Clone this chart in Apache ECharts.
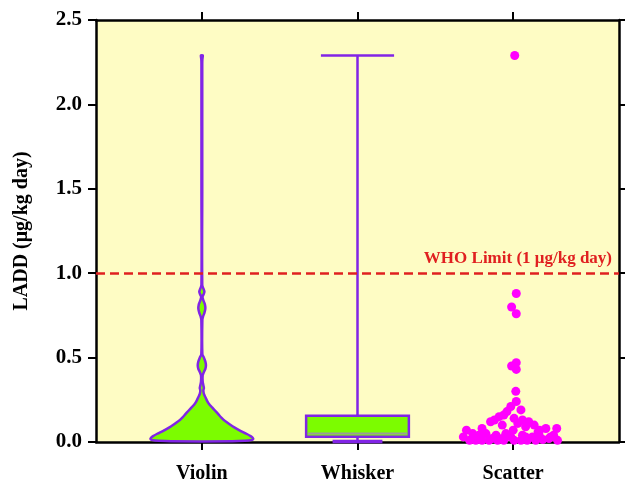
<!DOCTYPE html>
<html>
<head>
<meta charset="utf-8">
<script src="https://cdn.jsdelivr.net/npm/echarts@6/dist/echarts.min.js"></script>
<style>html,body{margin:0;padding:0;background:#fff}#c{width:625px;height:489px}</style>
</head>
<body>
<div id="c"></div>
<script>
// ---- data ----
var categories = ['Violin', 'Whisker', 'Scatter'];
var yTicks = [0, 0.5, 1.0, 1.5, 2.0, 2.5];
var whoLimit = 1.0;
var whoLabel = 'WHO Limit (1 μg/kg day)';

// violin profile: LADD value and relative density (half-width, 1 = widest)
var violinY = [2.29, 2.285, 2.265, 2.24, 1.5, 0.93, 0.905, 0.89, 0.875, 0.86, 0.835, 0.815, 0.79, 0.765, 0.745, 0.725,
  0.52, 0.5, 0.475, 0.455, 0.435, 0.415, 0.395, 0.36, 0.335, 0.32, 0.305, 0.285, 0.265, 0.245, 0.225, 0.205,
  0.185, 0.165, 0.145, 0.125, 0.105, 0.085, 0.065, 0.05, 0.035, 0.025, 0.017, 0.011, 0.007, 0.004];
var violinDensity = [0.018, 0.018, 0.01, 0.008, 0.008, 0.008, 0.035, 0.05, 0.035, 0.012, 0.035, 0.06, 0.068, 0.05, 0.025, 0.01,
  0.01, 0.04, 0.07, 0.08, 0.07, 0.04, 0.016, 0.016, 0.03, 0.04, 0.03, 0.04, 0.07, 0.1, 0.14, 0.2,
  0.26, 0.32, 0.38, 0.45, 0.54, 0.64, 0.76, 0.86, 0.95, 0.99, 1.0, 0.96, 0.84, 0.6];

// box & whisker summary
var boxStats = { min: 0.003, q1: 0.031, median: 0.05, q3: 0.155, max: 2.29 };

// scatter values and horizontal jitter (in category units)
var scatterValues = [2.29, 0.88, 0.80, 0.76, 0.47, 0.45, 0.43, 0.30, 0.24, 0.21, 0.19, 0.18, 0.16, 0.14, 0.15,
  0.13, 0.12, 0.13, 0.10, 0.10, 0.12, 0.08, 0.11, 0.07, 0.07, 0.04, 0.07, 0.05, 0.04, 0.05, 0.04, 0.05, 0.03,
  0.04, 0.03, 0.04, 0.02, 0.01, 0.01, 0.01, 0.01, 0.01, 0.01, 0.01, 0.01, 0.01, 0.01, 0.01, 0.015, 0.03,
  0.03, 0.02, 0.02, 0.03, 0.08, 0.06, 0.09, 0.08];
var scatterJitter = [0.01, 0.02, -0.01, 0.02, 0.02, -0.01, 0.02, 0.017, 0.02, -0.015, 0.05, -0.04, -0.06, 0.006, -0.09,
  -0.12, -0.145, 0.06, -0.07, 0.135, 0.10, -0.2, 0.03, -0.3, 0.17, 0.26, 0.0, -0.26, -0.22, -0.175, -0.11, -0.047, -0.015,
  0.06, 0.124, 0.167, 0.23, 0.285, -0.28, -0.24, -0.20, -0.155, -0.10, -0.06, 0.006, 0.05, 0.09, 0.145, 0.19, 0.24,
  -0.32, -0.135, -0.07, 0.08, 0.21, 0.16, 0.08, 0.28];

// ---- chart ----
var PURPLE = '#8124e6', GREEN = '#7cfc00', MAGENTA = '#ff00ff', RED = '#e02020';
var FONT = '"Liberation Serif", "Times New Roman", serif';
var VIOLIN_HALF = 0.33;

var chart = echarts.init(document.getElementById('c'), null, { renderer: 'canvas' });

var scatterData = scatterValues.map(function (v, i) { return [3 + scatterJitter[i], v]; });

function axisCommon() {
  return {
    axisLine: { show: true, onZero: false, lineStyle: { color: '#000', width: 2.5 } },
    axisTick: { show: true, inside: false, length: 8, lineStyle: { color: '#000', width: 2 } },
    splitLine: { show: false }
  };
}

var option = {
  animation: false,
  grid: { left: 96, right: 6, top: 20, bottom: 47, show: true, backgroundColor: '#fefcc4', borderWidth: 0 },
  xAxis: [
    Object.assign(axisCommon(), {
      type: 'value', position: 'bottom', min: 0.32, max: 3.68,
      axisTick: { show: true, length: 8, customValues: [1, 2, 3], lineStyle: { color: '#000', width: 2 } },
      axisLabel: { customValues: [1, 2, 3], margin: 22, fontFamily: FONT, fontWeight: 'bold', fontSize: 20, color: '#000',
        formatter: function (v) { return categories[Math.round(v) - 1]; } }
    }),
    Object.assign(axisCommon(), {
      type: 'value', position: 'top', min: 0.32, max: 3.68,
      axisTick: { show: true, length: 8, customValues: [1, 2, 3], lineStyle: { color: '#000', width: 2 } },
      axisLabel: { show: false }
    })
  ],
  yAxis: [
    Object.assign(axisCommon(), {
      type: 'value', position: 'left', min: 0, max: 2.5, interval: 0.5,
      name: 'LADD (μg/kg day)', nameLocation: 'middle', nameGap: 64,
      nameTextStyle: { fontFamily: FONT, fontWeight: 'bold', fontSize: 20, color: '#000' },
      axisLabel: { margin: 14, fontFamily: FONT, fontWeight: 'bold', fontSize: 21, color: '#000',
        formatter: function (v) { return v.toFixed(1); } }
    }),
    Object.assign(axisCommon(), {
      type: 'value', position: 'right', min: 0, max: 2.5, interval: 0.5,
      axisLabel: { show: false }
    })
  ],
  series: [
    {
      type: 'custom', xAxisIndex: 0, yAxisIndex: 0, data: [1], z: 3,
      renderItem: function (params, api) {
        var c = api.value(0);
        var right = [], left = [];
        for (var i = 0; i < violinY.length; i++) {
          var w = violinDensity[i] * VIOLIN_HALF;
          right.push(api.coord([c + w, violinY[i]]));
          left.push(api.coord([c - w, violinY[i]]));
        }
        var pts = right.concat(left.reverse());
        return { type: 'polygon', shape: { points: pts, smooth: 0.3 },
          style: { fill: GREEN, stroke: PURPLE, lineWidth: 2.5 } };
      }
    },
    {
      type: 'custom', xAxisIndex: 0, yAxisIndex: 0, data: [2], z: 3,
      renderItem: function (params, api) {
        var c = api.value(0), s = boxStats;
        var pTop = api.coord([c, s.max]), pQ3 = api.coord([c, s.q3]);
        var pQ1 = api.coord([c, s.q1]), pMin = api.coord([c, s.min]);
        var bl = api.coord([c - 0.33, s.q3]), br = api.coord([c + 0.33, s.q1]);
        var capT1 = api.coord([c - 0.235, s.max]), capT2 = api.coord([c + 0.235, s.max]);
        var capB1 = api.coord([c - 0.16, s.min]), capB2 = api.coord([c + 0.16, s.min]);
        var m1 = api.coord([c - 0.33, s.median]), m2 = api.coord([c + 0.33, s.median]);
        var ls = { stroke: PURPLE, lineWidth: 2.5 };
        return { type: 'group', children: [
          { type: 'line', shape: { x1: pTop[0], y1: pTop[1], x2: pQ3[0], y2: pQ3[1] }, style: ls },
          { type: 'line', shape: { x1: pQ1[0], y1: pQ1[1], x2: pMin[0], y2: pMin[1] }, style: ls },
          { type: 'line', shape: { x1: capT1[0], y1: capT1[1], x2: capT2[0], y2: capT2[1] }, style: ls },
          { type: 'line', shape: { x1: capB1[0], y1: capB1[1], x2: capB2[0], y2: capB2[1] }, style: { stroke: PURPLE, lineWidth: 3.5 } },
          { type: 'rect', shape: { x: bl[0], y: bl[1], width: br[0] - bl[0], height: br[1] - bl[1] },
            style: { fill: GREEN, stroke: PURPLE, lineWidth: 2.5 } },
          { type: 'line', shape: { x1: m1[0] + 2, y1: m1[1], x2: m2[0] - 2, y2: m2[1] }, style: { stroke: '#9a9a9a', lineWidth: 2 } }
        ] };
      }
    },
    {
      type: 'scatter', xAxisIndex: 0, yAxisIndex: 0, data: scatterData, z: 4,
      symbol: 'circle', symbolSize: 9, itemStyle: { color: MAGENTA, opacity: 1 },
      markLine: {
        silent: true, symbol: 'none', animation: false,
        lineStyle: { color: RED, type: [9, 5], width: 2.5 },
        label: { show: true, position: 'insideEndTop', distance: [7, 6], formatter: whoLabel,
          color: RED, fontFamily: FONT, fontWeight: 'bold', fontSize: 17 },
        data: [{ yAxis: whoLimit }]
      }
    }
  ]
};
chart.setOption(option);
</script>
</body>
</html>
